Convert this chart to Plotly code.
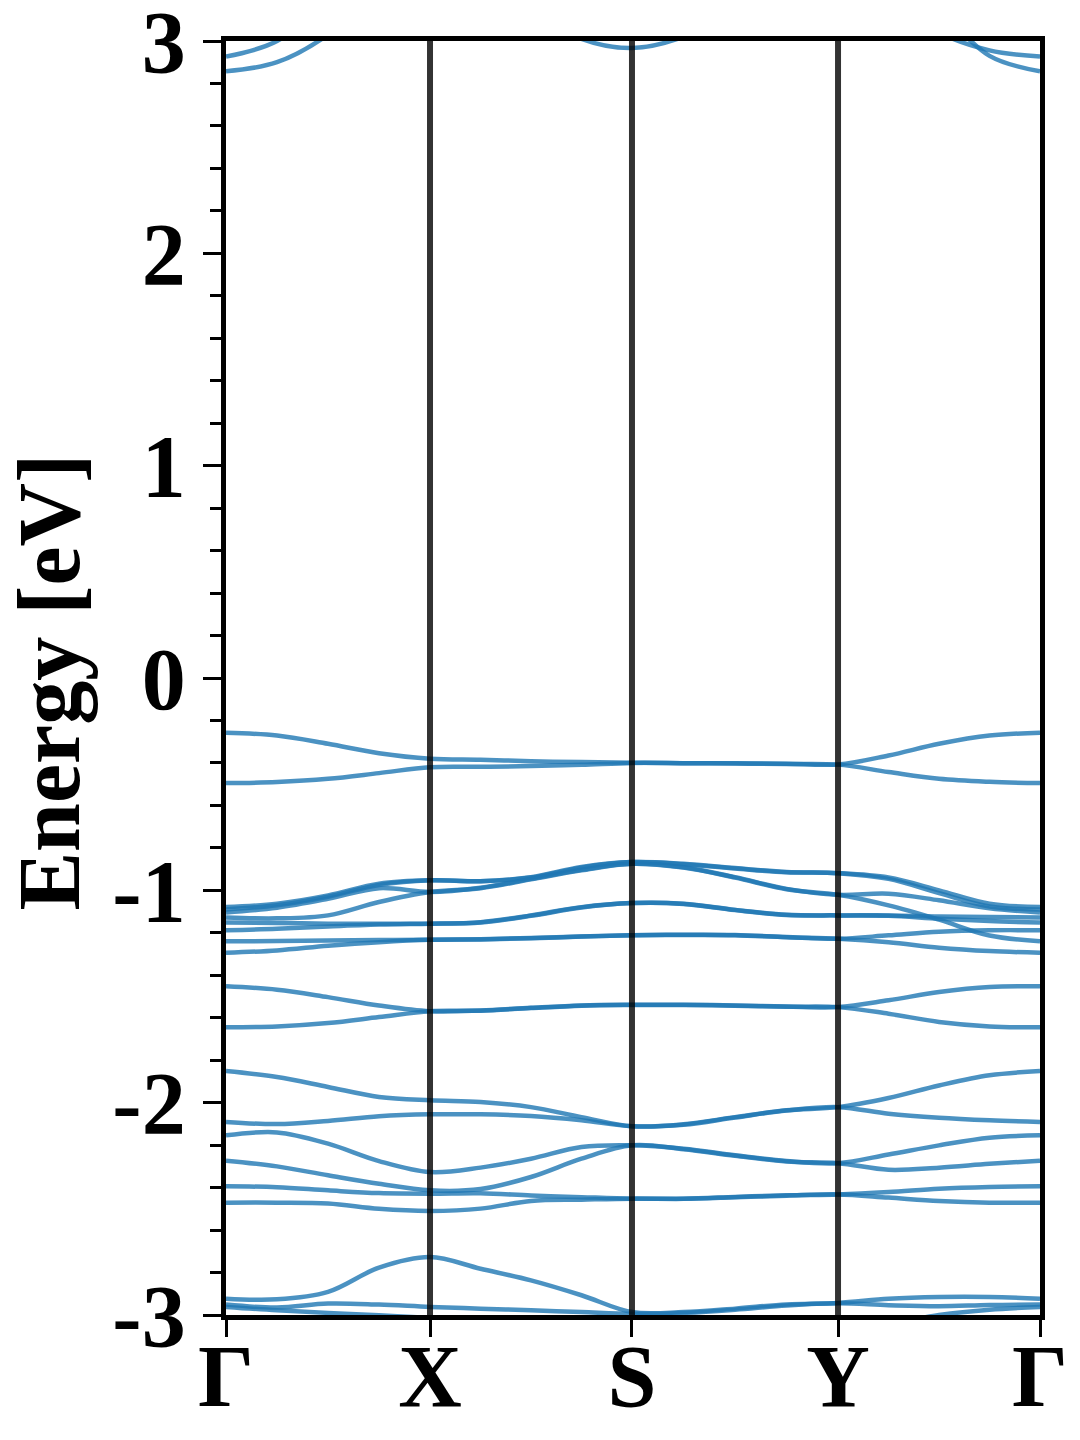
import plotly.graph_objects as go

# ---- data -----------------------------------------------------------
k_labels = ["Γ", "X", "S", "Y", "Γ"]
k_nodes = [0.0, 1.0, 1.99, 3.0, 3.99]
# sample k positions along Γ-X-S-Y-Γ (5 per segment, shared ends)
k_samples = [0.0, 0.25, 0.5, 0.75, 1.0,
             1.2475, 1.495, 1.7425, 1.99,
             2.2425, 2.495, 2.7475, 3.0,
             3.2475, 3.495, 3.7425, 3.99]

y_tick_vals = [-3, -2, -1, 0, 1, 2, 3]
y_tick_text = ["-3", "-2", "-1", "0", "1", "2", "3"]
y_title = "Energy [eV]"

# conduction bands
band_c1 = [2.927, 3.00, 3.20, 3.45, 3.60, 3.62, 3.65, 3.66, 3.66, 3.65, 3.60, 3.55, 3.50, 3.35, 3.15, 2.93, 2.857]
band_c2 = [2.857, 2.90, 3.03, 3.25, 3.40, 3.45, 3.50, 3.52, 3.52, 3.50, 3.45, 3.40, 3.35, 3.20, 3.04, 2.956, 2.927]
band_c3 = [3.80, 3.75, 3.65, 3.50, 3.40, 3.30, 3.15, 3.01, 2.967, 3.02, 3.15, 3.30, 3.40, 3.50, 3.65, 3.75, 3.80]

# valence bands
band_v01 = [-0.258, -0.271, -0.310, -0.354, -0.380, -0.385, -0.392, -0.396, -0.399, -0.401, -0.402, -0.404, -0.407, -0.365, -0.310, -0.271, -0.258]
band_v02 = [-0.495, -0.490, -0.475, -0.448, -0.420, -0.418, -0.415, -0.409, -0.400, -0.401, -0.403, -0.405, -0.408, -0.443, -0.475, -0.489, -0.495]

band_v03 = [-1.079, -1.063, -1.024, -0.969, -0.953, -0.957, -0.938, -0.890, -0.867, -0.875, -0.895, -0.914, -0.919, -0.940, -1.000, -1.063, -1.079]
band_v04 = [-1.090, -1.070, -1.030, -0.975, -0.953, -0.957, -0.940, -0.893, -0.867, -0.877, -0.897, -0.915, -0.919, -0.946, -1.013, -1.076, -1.090]
band_v05 = [-1.104, -1.082, -1.040, -0.990, -1.008, -0.988, -0.946, -0.903, -0.875, -0.891, -0.938, -0.993, -1.021, -1.016, -1.047, -1.085, -1.104]
band_v06 = [-1.128, -1.132, -1.118, -1.055, -1.008, -0.990, -0.948, -0.906, -0.875, -0.893, -0.940, -0.995, -1.021, -1.071, -1.138, -1.213, -1.240]
band_v07 = [-1.152, -1.154, -1.157, -1.157, -1.157, -1.150, -1.118, -1.079, -1.060, -1.063, -1.092, -1.115, -1.118, -1.118, -1.123, -1.126, -1.128]
band_v08 = [-1.188, -1.181, -1.170, -1.161, -1.157, -1.152, -1.120, -1.081, -1.060, -1.064, -1.093, -1.116, -1.118, -1.120, -1.134, -1.145, -1.152]
band_v09 = [-1.240, -1.239, -1.236, -1.234, -1.233, -1.230, -1.225, -1.217, -1.212, -1.209, -1.210, -1.220, -1.228, -1.212, -1.195, -1.188, -1.188]
band_v10 = [-1.294, -1.283, -1.261, -1.244, -1.233, -1.231, -1.226, -1.218, -1.212, -1.210, -1.211, -1.221, -1.228, -1.244, -1.270, -1.286, -1.294]

band_v11 = [-1.452, -1.468, -1.503, -1.542, -1.569, -1.566, -1.553, -1.542, -1.539, -1.539, -1.542, -1.547, -1.550, -1.518, -1.479, -1.455, -1.452]
band_v12 = [-1.645, -1.641, -1.625, -1.597, -1.569, -1.567, -1.554, -1.543, -1.540, -1.540, -1.543, -1.548, -1.550, -1.581, -1.620, -1.641, -1.645]

band_v13 = [-1.851, -1.879, -1.926, -1.973, -1.989, -1.997, -2.021, -2.068, -2.111, -2.102, -2.068, -2.036, -2.021, -1.978, -1.919, -1.871, -1.851]
band_v14 = [-2.091, -2.101, -2.086, -2.064, -2.055, -2.055, -2.063, -2.083, -2.111, -2.104, -2.070, -2.037, -2.021, -2.052, -2.071, -2.083, -2.091]
band_v15 = [-2.154, -2.140, -2.193, -2.275, -2.327, -2.306, -2.264, -2.209, -2.201, -2.217, -2.248, -2.275, -2.285, -2.244, -2.201, -2.165, -2.154]
band_v16 = [-2.273, -2.300, -2.342, -2.382, -2.413, -2.407, -2.350, -2.264, -2.201, -2.219, -2.250, -2.277, -2.285, -2.316, -2.306, -2.288, -2.273]
band_v17 = [-2.394, -2.398, -2.413, -2.426, -2.429, -2.427, -2.437, -2.445, -2.452, -2.452, -2.444, -2.436, -2.432, -2.421, -2.405, -2.397, -2.394]
band_v18 = [-2.471, -2.471, -2.475, -2.500, -2.510, -2.499, -2.463, -2.457, -2.452, -2.453, -2.446, -2.438, -2.432, -2.447, -2.463, -2.471, -2.471]

band_v19 = [-2.923, -2.926, -2.891, -2.777, -2.727, -2.782, -2.837, -2.907, -2.986, -2.986, -2.970, -2.950, -2.943, -2.923, -2.915, -2.915, -2.923]
band_v20 = [-2.951, -2.965, -2.946, -2.951, -2.962, -2.970, -2.978, -2.986, -2.994, -2.990, -2.975, -2.955, -2.945, -2.954, -2.959, -2.953, -2.951]
band_v21 = [-2.962, -2.978, -2.990, -3.001, -3.014, -3.030, -3.050, -3.060, -3.070, -3.070, -3.070, -3.060, -3.050, -3.040, -3.000, -2.975, -2.962]

bands = [band_c1, band_c2, band_c3,
         band_v01, band_v02, band_v03, band_v04, band_v05, band_v06, band_v07,
         band_v08, band_v09, band_v10, band_v11, band_v12, band_v13, band_v14,
         band_v15, band_v16, band_v17, band_v18, band_v19, band_v20, band_v21]

# ---- figure ---------------------------------------------------------
FONT = "Liberation Serif, Times New Roman, serif"
fig = go.Figure()
for b in bands:
    fig.add_trace(go.Scatter(
        x=k_samples, y=b, mode="lines",
        line=dict(color="#1f77b4", width=4.5, shape="spline", smoothing=1.0),
        opacity=0.8, showlegend=False, hoverinfo="skip"))

for kx in k_nodes[1:-1]:
    fig.add_vline(x=kx, line=dict(color="rgba(0,0,0,0.8)", width=6), layer="above")

# the page body adds an 8 px margin, so the figure is sized to fit the window
fig.update_layout(
    width=1072, height=1432,
    margin=dict(l=218, r=40, t=33, b=125, autoexpand=False),
    paper_bgcolor="white", plot_bgcolor="white",
    font=dict(family=FONT, size=88, color="black", weight="bold"),
)
fig.update_xaxes(
    range=[k_nodes[0], k_nodes[-1]], automargin=False,
    tickmode="array", tickvals=k_nodes, ticktext=k_labels,
    ticks="outside", ticklen=17, tickwidth=3, tickcolor="black",
    showline=True, linewidth=4.5, linecolor="black", mirror=True,
    showgrid=False, zeroline=False, ticklabeloverflow="allow",
    ticklabelstandoff=-36,
    tickfont=dict(family=FONT, size=88, color="black", weight="bold"),
)
fig.update_yaxes(
    range=[-3, 3], automargin=False,
    tickmode="array", tickvals=y_tick_vals, ticktext=y_tick_text,
    ticks="outside", ticklen=18, tickwidth=3, tickcolor="black",
    minor=dict(tickmode="linear", tick0=0, dtick=0.2, ticks="outside",
               ticklen=11, tickwidth=3, tickcolor="black"),
    showline=True, linewidth=4.5, linecolor="black", mirror=True,
    showgrid=False, zeroline=False, ticklabeloverflow="allow",
    tickfont=dict(family=FONT, size=88, color="black", weight="bold"),
)
# y-axis title placed as a rotated annotation so it can sit close to the page edge
fig.add_annotation(
    text=y_title, textangle=-90, showarrow=False,
    xref="paper", yref="paper", x=-0.2165, y=0.497,
    xanchor="center", yanchor="middle",
    font=dict(family=FONT, size=88, color="black", weight="bold"),
)

fig.write_html("out.html")
